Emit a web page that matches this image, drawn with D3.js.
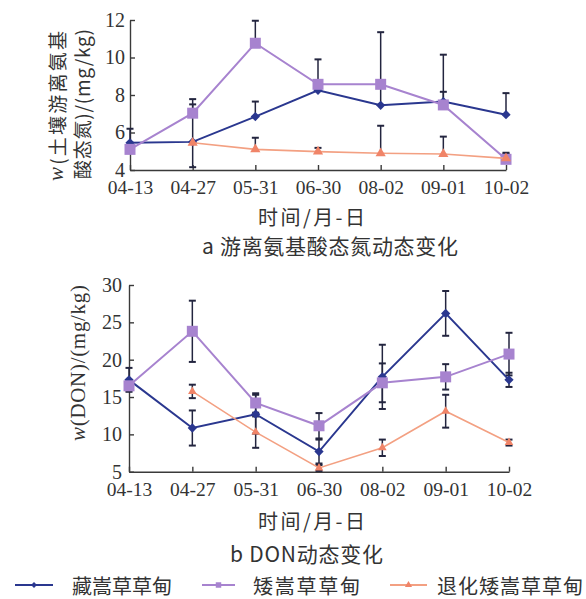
<!DOCTYPE html>
<html>
<head>
<meta charset="utf-8">
<script src="https://cdn.jsdelivr.net/npm/d3@7"></script>
<style>
  html, body { margin: 0; padding: 0; background: #fff; }
  svg { display: block; }
  .tick text { font-family: "Liberation Serif", "Times New Roman", serif; fill: #333; }
  .cn { font-family: "Noto Sans CJK SC", "Noto Sans", sans-serif; fill: #333; }
</style>
</head>
<body>
<svg id="chart" width="586" height="599"></svg>
<script>
// ---------- data ----------
const dates = ["04-13", "04-27", "05-31", "06-30", "08-02", "09-01", "10-02"];
const seriesNames = ["藏嵩草草甸", "矮嵩草草甸", "退化矮嵩草草甸"];

// (a) free amino-acid N, mg/kg
const aaTicks = [4, 6, 8, 10, 12];
const aaBlue = [5.45, 5.5, 6.85, 8.25, 7.45, 7.65, 6.95];
const aaBlueUp = [0.75, 2.0, 0.8, 1.65, 3.9, 2.5, 1.15];
const aaBlueDown = [0, 1.35, 0, 0, 0, 0, 0];
const aaPurple = [5.1, 7.03, 10.76, 8.57, 8.57, 7.47, 4.57];
const aaPurpleUp = [0, 0.75, 1.2, 0, 0, 0.7, 0.3];
const aaPurpleDown = [0, 0, 0, 0, 0, 0, 0];
const aaOrange = [null, 5.45, 5.1, 4.98, 4.89, 4.85, 4.62];
const aaOrangeUp = [0, 0, 0.62, 0.2, 1.47, 0.93, 0.3];
const aaOrangeDown = [0, 0, 0, 0, 0, 0, 0];

// (b) DON, mg/kg
const donTicks = [5, 10, 15, 20, 25, 30];
const donBlue = [17.3, 10.85, 12.7, 7.7, 17.7, 26.2, 17.3];
const donBlueErr = [1.6, 2.35, 2.6, 1.6, 4.3, 3.0, 0.95];
const donPurple = [16.5, 23.8, 14.2, 11.15, 16.9, 17.7, 20.75];
const donPurpleErr = [0.6, 4.1, 1.3, 1.7, 2.6, 1.7, 2.85];
const donOrange = [null, 15.75, 10.3, 5.5, 8.2, 13.1, 8.9];
const donOrangeErr = [0, 0.9, 2.1, 0.4, 1.1, 2.2, 0.4];

// ---------- styles ----------
const colBlue = "#2a378f", colPurple = "#a783cf", colOrange = "#f3a082";
const colOrangeMark = "#f08468", colErr = "#23253f", colAxis = "#3a3a3a";

const svg = d3.select("#chart");

function drawPanel(cfg) {
  const x = d3.scalePoint().domain(dates).range(cfg.xRange);
  const y = d3.scaleLinear().domain(cfg.yDomain).range(cfg.yRange);
  const g = svg.append("g");

  const xAxis = d3.axisBottom(x).tickSizeInner(-5).tickSizeOuter(0).tickPadding(cfg.xPad);
  const gx = g.append("g").attr("transform", `translate(0,${cfg.yRange[0]})`).call(xAxis);
  gx.selectAll(".tick text").attr("font-size", 19.5);
  const yAxis = d3.axisLeft(y).tickValues(cfg.yTicks).tickSizeInner(-5).tickSizeOuter(0).tickPadding(cfg.yPad);
  const gy = g.append("g").attr("transform", `translate(${cfg.xRange[0]},0)`).call(yAxis);
  gy.selectAll(".tick text").attr("font-size", 20);
  g.selectAll(".domain, .tick line").attr("stroke", colAxis).attr("stroke-width", 1.4);

  const clampY = v => Math.max(cfg.yDomain[0], Math.min(cfg.yDomain[1], v));

  const series = cfg.series;
  // error bars
  series.forEach(s => {
    s.values.forEach((v, i) => {
      if (v == null) return;
      const cx = x(dates[i]);
      [v + s.up[i], v - s.down[i]].forEach((raw, j) => {
        const d = j === 0 ? s.up[i] : s.down[i];
        if (!(d > 0)) return;
        const end = clampY(raw);
        g.append("line").attr("x1", cx).attr("x2", cx)
          .attr("y1", y(v)).attr("y2", y(end))
          .attr("stroke", colErr).attr("stroke-width", 1.5);
        if (end === raw) {
          g.append("line").attr("x1", cx - 3.5).attr("x2", cx + 3.5)
            .attr("y1", y(end)).attr("y2", y(end))
            .attr("stroke", colErr).attr("stroke-width", 2);
        }
      });
    });
  });

  // lines and markers
  series.forEach(s => {
    const line = d3.line().defined(d => d.v != null).x(d => x(d.k)).y(d => y(d.v));
    const pts = s.values.map((v, i) => ({ k: dates[i], v }));
    g.append("path").datum(pts).attr("d", line)
      .attr("fill", "none").attr("stroke", s.color).attr("stroke-width", s.lw);
    g.selectAll(null).data(pts.filter(d => d.v != null)).enter().append("path")
      .attr("transform", d => `translate(${x(d.k)},${y(d.v)})`)
      .attr("d", d3.symbol().type(s.symbol).size(s.size))
      .attr("fill", s.mark);
  });
}

drawPanel({
  xRange: [130, 506], yDomain: [4, 12], yRange: [170, 20], yTicks: aaTicks, xPad: 10, yPad: 5,
  series: [
    { values: aaBlue, up: aaBlueUp, down: aaBlueDown, color: colBlue, mark: colBlue, lw: 2, symbol: d3.symbolDiamond2, size: 55 },
    { values: aaPurple, up: aaPurpleUp, down: aaPurpleDown, color: colPurple, mark: colPurple, lw: 2, symbol: d3.symbolSquare, size: 121 },
    { values: aaOrange, up: aaOrangeUp, down: aaOrangeDown, color: colOrange, mark: colOrangeMark, lw: 1.6, symbol: d3.symbolTriangle, size: 45 }
  ]
});

drawPanel({
  xRange: [129, 509], yDomain: [5, 30], yRange: [471.7, 285], yTicks: donTicks, xPad: 10, yPad: 7,
  series: [
    { values: donBlue, up: donBlueErr, down: donBlueErr, color: colBlue, mark: colBlue, lw: 2, symbol: d3.symbolDiamond2, size: 55 },
    { values: donPurple, up: donPurpleErr, down: donPurpleErr, color: colPurple, mark: colPurple, lw: 2, symbol: d3.symbolSquare, size: 121 },
    { values: donOrange, up: donOrangeErr, down: donOrangeErr, color: colOrange, mark: colOrangeMark, lw: 1.6, symbol: d3.symbolTriangle, size: 32 }
  ]
});

// ---------- texts ----------
function rotLabel(cx, cy, len, parts) {
  const t = svg.append("text").attr("class", "cn")
    .attr("transform", `translate(${cx},${cy}) rotate(-90)`)
    .attr("text-anchor", "middle").attr("dominant-baseline", "central")
    .attr("font-size", 19).attr("textLength", len).attr("lengthAdjust", "spacing");
  parts.forEach(p => {
    const ts = t.append("tspan").text(p.t);
    if (p.it) ts.attr("font-style", "italic").attr("font-family", "Liberation Serif, serif").attr("font-size", 21);
    if (p.serif) ts.attr("font-family", "Liberation Serif, serif").attr("font-size", 21);
  });
}
rotLabel(56, 106, 150, [{ t: "w", it: true }, { t: "(土壤游离氨基" }]);
rotLabel(81, 104, 150, [{ t: "酸态氮)/(mg/kg)" }]);
rotLabel(78, 363, 156, [{ t: "w", it: true }, { t: "(DON)/(mg/kg)", serif: true }]);

function label(x, y, str, len, fs) {
  svg.append("text").attr("class", "cn").attr("x", x).attr("y", y)
    .attr("dominant-baseline", "central").attr("font-size", fs)
    .attr("textLength", len).attr("lengthAdjust", "spacing").text(str);
}
label(258, 216, "时间/月-日", 107, 20);
label(202, 245, "a 游离氨基酸态氮动态变化", 256, 21);
label(258, 520, "时间/月-日", 107, 20);
label(230, 553, "b DON动态变化", 153, 21);

// legend
const legendItems = [
  { name: seriesNames[0], x1: 15, x2: 53, tx: 72, tl: 100, color: colBlue, mark: colBlue, symbol: d3.symbolDiamond2, size: 22 },
  { name: seriesNames[1], x1: 202, x2: 235, tx: 253, tl: 107, color: colPurple, mark: colPurple, symbol: d3.symbolSquare, size: 30 },
  { name: seriesNames[2], x1: 390, x2: 427, tx: 437, tl: 146, color: colOrange, mark: colOrangeMark, symbol: d3.symbolTriangle, size: 22 }
];
const ly = 585;
legendItems.forEach(it => {
  svg.append("line").attr("x1", it.x1).attr("x2", it.x2).attr("y1", ly).attr("y2", ly)
    .attr("stroke", it.color).attr("stroke-width", 2);
  svg.append("path").attr("transform", `translate(${(it.x1 + it.x2) / 2},${ly})`)
    .attr("d", d3.symbol().type(it.symbol).size(it.size)).attr("fill", it.mark);
  label(it.tx, ly, it.name, it.tl, 20);
});
</script>
</body>
</html>
